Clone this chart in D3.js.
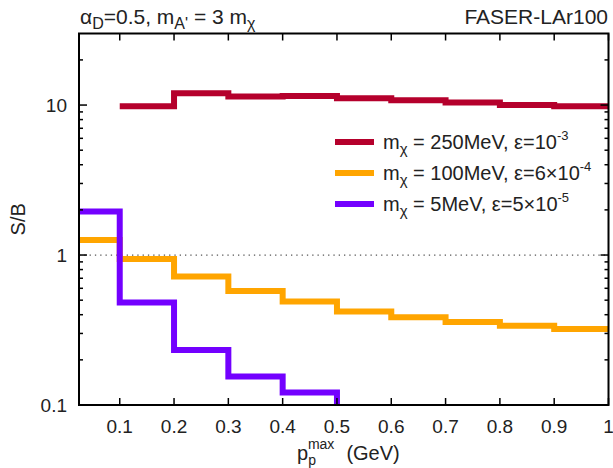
<!DOCTYPE html>
<html><head><meta charset="utf-8">
<script src="https://cdn.jsdelivr.net/npm/d3@7"></script>
<style>body{margin:0;background:#fff;}svg{display:block;font-family:"Liberation Sans",Arial,sans-serif;}</style>
</head><body><svg id="c" width="613" height="468"></svg>
<script>
// Bin edges (GeV) and S/B values per bin
const edgesRed = [0.1,0.2,0.3,0.4,0.5,0.6,0.7,0.8,0.9,1.0];
const valsRed = [9.8,12.0,11.4,11.5,11.1,10.75,10.4,10.0,9.8];
const edgesOrange = [0.025,0.1,0.2,0.3,0.4,0.5,0.6,0.7,0.8,0.9,1.0];
const valsOrange = [1.26,0.94,0.72,0.575,0.489,0.421,0.384,0.357,0.338,0.321];
const edgesPurple = [0.025,0.1,0.2,0.3,0.4,0.5];
const valsPurple = [1.95,0.483,0.233,0.155,0.121];
const xTicks = [0.1,0.2,0.3,0.4,0.5,0.6,0.7,0.8,0.9,1];
const xTickLabels = ["0.1","0.2","0.3","0.4","0.5","0.6","0.7","0.8","0.9","1"];
const yTicks = [0.1,1,10];
const yTickLabels = ["0.1","1","10"];

const svg = d3.select("#c");
const L=79, R=608.5, T=33.5, B=405;
const x = d3.scaleLinear().domain([0.025,1.0]).range([L,R]);
const y = d3.scaleLog().domain([0.1,30]).range([B,T]);

const colors = {red:"#b5002c", orange:"#ffa500", purple:"#7300ff"};

svg.append("clipPath").attr("id","clip").append("rect").attr("x",L).attr("y",T).attr("width",R-L).attr("height",B-T);

svg.append("line").attr("x1",L).attr("x2",R).attr("y1",y(1)).attr("y2",y(1))
  .attr("stroke","#555").attr("stroke-width",1.3).attr("stroke-dasharray","1.3,4");

function stepPts(edges, vals, dropToAxis){
  const pts=[];
  vals.forEach((v,i)=>{pts.push([edges[i],v]);pts.push([edges[i+1],v]);});
  if(dropToAxis) pts.push([edges[edges.length-1], y.domain()[0]]);
  return pts;
}
const line = d3.line().x(d=>x(d[0])).y(d=>y(d[1]));
const g = svg.append("g").attr("clip-path","url(#clip)");
[[edgesOrange,valsOrange,colors.orange,false],[edgesRed,valsRed,colors.red,false],[edgesPurple,valsPurple,colors.purple,true]]
.forEach(([e,v,c,drop])=>{
  g.append("path").attr("d",line(stepPts(e,v,drop))).attr("fill","none")
   .attr("stroke",c).attr("stroke-width",6).attr("stroke-linejoin","miter").attr("stroke-linecap","butt");
});

svg.append("rect").attr("x",L).attr("y",T).attr("width",R-L).attr("height",B-T)
  .attr("fill","none").attr("stroke","#000").attr("stroke-width",2);

const ax = svg.append("g").attr("stroke","#000").attr("stroke-width",1.5);
xTicks.forEach(t=>{
  ax.append("line").attr("x1",x(t)).attr("x2",x(t)).attr("y1",B).attr("y2",B-7);
  ax.append("line").attr("x1",x(t)).attr("x2",x(t)).attr("y1",T).attr("y2",T+7);
});
const minor=[];
for(let d=0.1; d<30; d*=10){ for(let k=2;k<10;k++){ const v=d*k; if(v<30) minor.push(v);} }
yTicks.forEach(t=>{
  ax.append("line").attr("x1",L).attr("x2",L+8).attr("y1",y(t)).attr("y2",y(t));
  ax.append("line").attr("x1",R).attr("x2",R-8).attr("y1",y(t)).attr("y2",y(t));
});
minor.forEach(t=>{
  ax.append("line").attr("x1",L).attr("x2",L+4).attr("y1",y(t)).attr("y2",y(t));
  ax.append("line").attr("x1",R).attr("x2",R-4).attr("y1",y(t)).attr("y2",y(t));
});

const fs=19;
xTicks.forEach((t,i)=>{
  svg.append("text").attr("x",x(t)).attr("y",433).attr("text-anchor","middle")
    .attr("font-size",fs).attr("fill","#222").text(xTickLabels[i]);
});
yTicks.forEach((t,i)=>{
  svg.append("text").attr("x",67).attr("y",y(t)+7).attr("text-anchor","end")
    .attr("font-size",fs).attr("fill","#222").text(yTickLabels[i]);
});

svg.append("text").attr("transform",`translate(25,${(T+B)/2}) rotate(-90)`).attr("text-anchor","middle")
  .attr("font-size",20).attr("fill","#222").text("S/B");
const xl = svg.append("text").attr("x",297).attr("y",460).attr("font-size",20).attr("fill","#222");
xl.append("tspan").text("p");
xl.append("tspan").attr("font-size",14).attr("dy",5).text("p");
xl.append("tspan").attr("font-size",14).attr("dx",-8).attr("dy",-16).text("max");
xl.append("tspan").attr("dx",12).attr("dy",11).text("(GeV)");

const tl = svg.append("text").attr("x",80).attr("y",24).attr("font-size",21).attr("fill","#222");
tl.append("tspan").text("α");
tl.append("tspan").attr("font-size",16).attr("dy",5).text("D");
tl.append("tspan").attr("dy",-5).text("=0.5, m");
tl.append("tspan").attr("font-size",16).attr("dy",5).text("A'");
tl.append("tspan").attr("dy",-5).text(" = 3 m");
tl.append("tspan").attr("font-size",16).attr("dy",5).text("χ");
svg.append("text").attr("x",608).attr("y",24).attr("text-anchor","end").attr("font-size",21).attr("fill","#222").text("FASER-LAr100");

const legMass = ["250MeV","100MeV","5MeV"];
const legEpsPre = ["10","6×10","5×10"];
const legEpsExp = ["-3","-4","-5"];
const legColors = [colors.red, colors.orange, colors.purple];
legMass.forEach((m,i)=>{
  const yy = 142 + i*31;
  svg.append("line").attr("x1",335).attr("x2",374).attr("y1",yy).attr("y2",yy).attr("stroke",legColors[i]).attr("stroke-width",6);
  const t = svg.append("text").attr("x",383).attr("y",yy+7).attr("font-size",20).attr("fill","#222");
  t.append("tspan").text("m");
  t.append("tspan").attr("font-size",15).attr("dy",5).text("χ");
  t.append("tspan").attr("dy",-5).text(" = "+m+", ε="+legEpsPre[i]);
  t.append("tspan").attr("font-size",13).attr("dy",-9).text(legEpsExp[i]);
});
</script></body></html>
